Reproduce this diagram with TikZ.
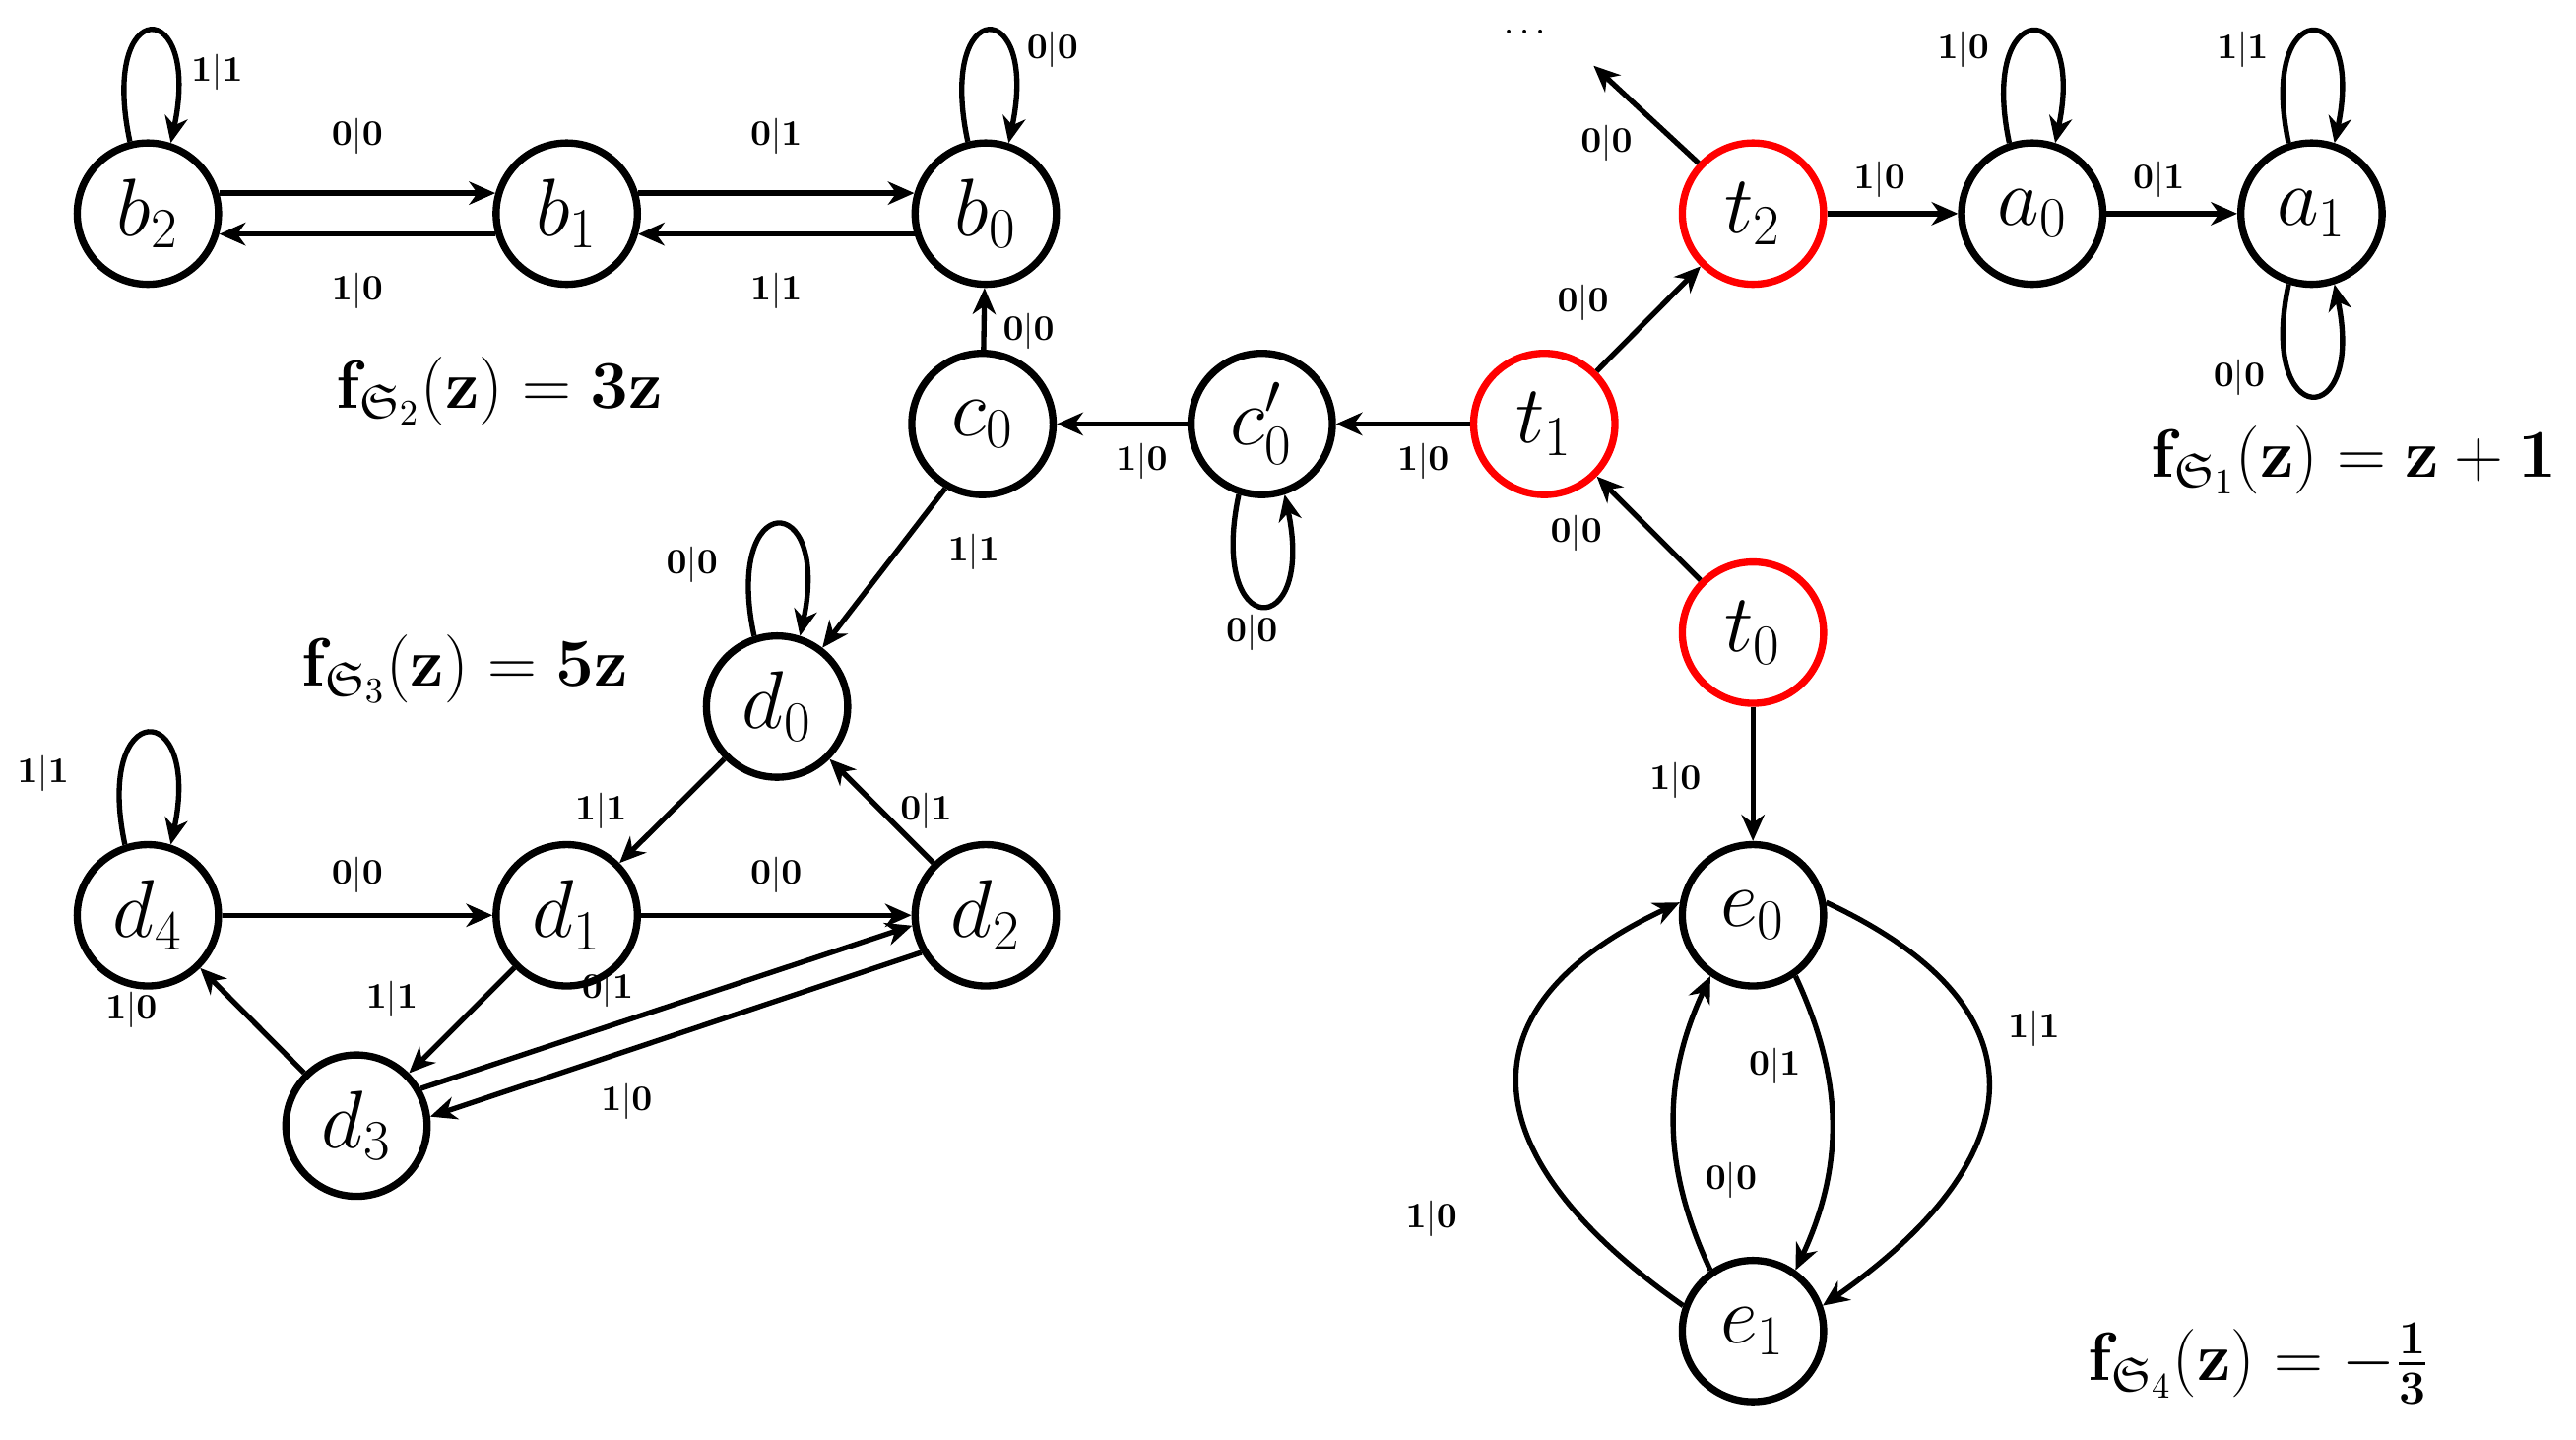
\documentclass[tikz,border=0pt]{standalone}
\usepackage{amsmath,amssymb}
\usetikzlibrary{arrows.meta}
\begin{document}
\begin{tikzpicture}[x=0.5pt,y=-0.5pt,
  st/.style={circle,draw,line width=2.2pt,minimum size=43pt,inner sep=0pt,font=\fontsize{26}{26}\selectfont},
  red st/.style={st,draw=red},
  tr/.style={-{Stealth[length=8pt,width=7pt,inset=2.5pt]},line width=1.6pt},
  lb/.style={font=\fontsize{11}{11}\selectfont,inner sep=1pt},
  fm/.style={font=\fontsize{21}{21}\selectfont,inner sep=0pt},
  lp/.style={tr,min distance=46pt}]
\useasboundingbox (0,0) rectangle (1568,876);
\newcommand{\lab}[1]{$\mathbf{#1}$}
% nodes
\node[st] (b2) at (90,130) {$b_2$};
\node[st] (b1) at (345,130) {$b_1$};
\node[st] (b0) at (600,130) {$b_0$};
\node[st] (c0) at (598,258) {$c_0$};
\node[st] (c0p) at (768,258) {$c_0'$};
\node[red st] (t1) at (940,258) {$t_1$};
\node[red st] (t2) at (1067,130) {$t_2$};
\node[red st] (t0) at (1067,385) {$t_0$};
\node[st] (a0) at (1237,130) {$a_0$};
\node[st] (a1) at (1407,130) {$a_1$};
\node[st] (e0) at (1067,557) {$e_0$};
\node[st] (e1) at (1067,810) {$e_1$};
\node[st] (d0) at (473,430) {$d_0$};
\node[st] (d4) at (90,557) {$d_4$};
\node[st] (d1) at (345,557) {$d_1$};
\node[st] (d2) at (600,557) {$d_2$};
\node[st] (d3) at (217,685) {$d_3$};
\coordinate (up) at (970,40);
\node[lb] (dots) at (930,20) {$\cdots$};
% b chain
\draw[tr] (b2.16) -- node[lb,above=10pt]{\lab{0|0}} (b1.164);
\draw[tr] (b1.196) -- node[lb,below=10pt]{\lab{1|0}} (b2.-16);
\draw[tr] (b1.16) -- node[lb,above=10pt]{\lab{0|1}} (b0.164);
\draw[tr] (b0.196) -- node[lb,below=10pt]{\lab{1|1}} (b1.-16);
\draw[lp] (b2.104) to[out=102,in=78] node[lb,pos=0.8,right=3pt]{\lab{1|1}} (b2.72);
\draw[lp] (b0.104) to[out=102,in=78] node[lb,pos=0.7,right=4pt]{\lab{0|0}} (b0.72);
% c
\draw[tr] (c0) -- node[lb,right=4pt,pos=0.3]{\lab{0|0}} (b0);
\draw[tr] (c0p) -- node[lb,below=4pt,pos=0.35]{\lab{1|0}} (c0);
\draw[tr] (t1) -- node[lb,below=4pt,pos=0.35]{\lab{1|0}} (c0p);
\draw[lp] (c0p.-108) to[out=-102,in=-78] node[lb,pos=0.5,below=1pt,xshift=-3pt]{\lab{0|0}} (c0p.-72);
\draw[tr] (c0.240) -- node[lb,pos=0.4,right=14pt]{\lab{1|1}} (d0);
% t
\draw[tr] (t1) -- node[lb,above left=4pt,pos=0.3]{\lab{0|0}} (t2);
\draw[tr] (t0) -- node[lb,left=14pt,pos=0.45]{\lab{0|0}} (t1);
\draw[tr] (t2) -- node[lb,left=12pt,pos=0.2]{\lab{0|0}} (up);
\draw[tr] (t2) -- node[lb,above=3pt,pos=0.4]{\lab{1|0}} (a0);
\draw[tr] (a0) -- node[lb,above=3pt,pos=0.4]{\lab{0|1}} (a1);
\draw[lp] (a0.108) to[out=102,in=78] node[lb,pos=0.3,left=5pt]{\lab{1|0}} (a0.72);
\draw[lp] (a1.108) to[out=102,in=78] node[lb,pos=0.3,left=5pt]{\lab{1|1}} (a1.72);
\draw[lp] (a1.-108) to[out=-102,in=-78] node[lb,pos=0.3,left=6pt]{\lab{0|0}} (a1.-72);
% e
\draw[tr] (t0) -- node[lb,left=14pt,pos=0.55]{\lab{1|0}} (e0);
\draw[tr] (e0.-55) to[bend left=25] node[lb,pos=0.3,left=6pt]{\lab{0|1}} (e1.55);
\draw[tr] (e1.125) to[bend left=25] node[lb,pos=0.3,right=6pt]{\lab{0|0}} (e0.235);
\draw[tr] (e1.160) to[out=145,in=205,looseness=1.6] node[lb,pos=0.2,left=36pt]{\lab{1|0}} (e0.170);
\draw[tr] (e0.10) to[out=-25,in=35,looseness=1.6] node[lb,pos=0.35,right=8pt]{\lab{1|1}} (e1.20);
% d
\draw[lp] (d0.108) to[out=102,in=78] node[lb,pos=0.2,left=8pt]{\lab{0|0}} (d0.72);
\draw[lp] (d4.108) to[out=102,in=78] node[lb,pos=0.2,left=14pt]{\lab{1|1}} (d4.72);
\draw[tr] (d0) -- node[lb,pos=0.5,left=12pt]{\lab{1|1}} (d1);
\draw[tr] (d2) -- node[lb,pos=0.5,right=4pt]{\lab{0|1}} (d0);
\draw[tr] (d4) -- node[lb,above=5pt]{\lab{0|0}} (d1);
\draw[tr] (d1) -- node[lb,above=5pt]{\lab{0|0}} (d2);
\draw[tr] (d1) -- node[lb,pos=0.3,left=18pt]{\lab{1|1}} (d3);
\draw[tr] (d3) -- node[lb,pos=0.6,left=24pt]{\lab{1|0}} (d4);
\draw[tr] (d3.30) -- node[lb,pos=0.38,above=4pt]{\lab{0|1}} (d2.188);
\draw[tr] (d2.210) -- node[lb,pos=0.6,below=8pt]{\lab{1|0}} (d3.7);
% formulas
\node[fm] (f2) at (304,238) {$\mathbf{f}_{\mathfrak{S}_2}(\mathbf{z})=\mathbf{3z}$};
\node[fm] (f3) at (283,407) {$\mathbf{f}_{\mathfrak{S}_3}(\mathbf{z})=\mathbf{5z}$};
\node[fm] (f1) at (1433,280) {$\mathbf{f}_{\mathfrak{S}_1}(\mathbf{z})=\mathbf{z+1}$};
\node[fm] (f4) at (1375,830) {$\mathbf{f}_{\mathfrak{S}_4}(\mathbf{z})=-\mathbf{\tfrac{1}{3}}$};
\end{tikzpicture}
\end{document}
